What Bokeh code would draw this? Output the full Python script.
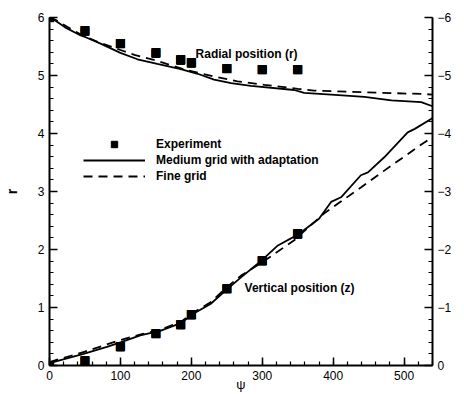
from bokeh.plotting import figure
from bokeh.models import (Range1d, LinearAxis, SingleIntervalTicker, Legend, LegendItem, Label,
                          LabelSet, ColumnDataSource)
from bokeh.core.properties import value
from bokeh.embed import file_html
from bokeh.resources import INLINE

# ---- data ----
psi_exp = [0, 50, 100, 150, 185, 200, 250, 300, 350]
r_exp = [6.0, 5.76, 5.55, 5.38, 5.26, 5.21, 5.12, 5.10, 5.10]
z_exp = [0.0, -0.07, -0.32, -0.55, -0.70, -0.87, -1.32, -1.80, -2.26]

psi_med_r = [0, 8, 22, 44, 51, 72, 100, 124, 152, 185, 209, 232, 256, 284, 345, 359, 397, 444, 482, 524, 540]
r_med = [6.0, 5.95, 5.83, 5.69, 5.66, 5.55, 5.39, 5.28, 5.20, 5.11, 5.03, 4.93, 4.87, 4.82, 4.75, 4.70, 4.67, 4.63, 4.57, 4.54, 4.47]

psi_fine_r = [0, 10, 25, 45, 70, 100, 121, 147, 170, 194, 230, 265, 303, 350, 373, 444, 529, 540]
r_fine = [6.0, 5.95, 5.84, 5.70, 5.57, 5.44, 5.35, 5.27, 5.18, 5.09, 4.99, 4.90, 4.84, 4.77, 4.74, 4.71, 4.68, 4.67]

psi_med_z = [0, 48, 81, 100, 128, 157, 185, 204, 227, 251, 270, 300, 322, 352, 380, 397, 411, 439, 449, 472, 505, 515, 538, 540]
z_med = [-0.04, -0.20, -0.32, -0.40, -0.52, -0.60, -0.73, -0.90, -1.06, -1.32, -1.52, -1.82, -2.07, -2.27, -2.53,
         -2.82, -2.90, -3.28, -3.33, -3.59, -4.02, -4.08, -4.25, -4.27]

psi_fine_z = [0, 50, 100, 130, 157, 185, 204, 227, 251, 270, 300, 345, 387, 439, 472, 529, 540]
z_fine = [-0.06, -0.24, -0.44, -0.54, -0.62, -0.75, -0.92, -1.09, -1.36, -1.55, -1.78, -2.16, -2.62, -3.07, -3.36,
          -3.85, -3.93]

legend_labels = ["Experiment", "Medium grid with adaptation", "Fine grid"]

FONT = "Liberation Sans"

p = figure(width=464, height=394, output_backend="svg", toolbar_location=None,
           x_range=Range1d(0, 540), y_range=Range1d(0, 6),
           min_border_left=49, min_border_right=32, min_border_top=17, min_border_bottom=29)
p.extra_y_ranges = {"z": Range1d(0, -6)}
p.outline_line_color = None
p.xgrid.visible = False
p.ygrid.visible = False
p.background_fill_color = "white"
p.border_fill_color = "white"

p.xaxis.ticker = SingleIntervalTicker(interval=100, num_minor_ticks=5)
p.yaxis.ticker = SingleIntervalTicker(interval=1, num_minor_ticks=5)

raxis = LinearAxis(y_range_name="z", ticker=SingleIntervalTicker(interval=1, num_minor_ticks=5))
p.add_layout(raxis, "right")

for ax in [p.xaxis[0], p.yaxis[0], raxis]:
    ax.major_tick_in = 8
    ax.major_tick_out = 0
    ax.minor_tick_in = 4
    ax.minor_tick_out = 0
    ax.axis_line_width = 2
    ax.major_tick_line_width = 1.5
    ax.minor_tick_line_width = 1.2
    ax.axis_line_color = "black"
    ax.major_tick_line_color = "black"
    ax.minor_tick_line_color = "black"
    ax.major_label_text_font = FONT
    ax.major_label_text_font_size = "12px"
    ax.major_label_text_color = "black"
    ax.major_label_standoff = 5

p.xaxis.axis_label = "ψ"
p.xaxis.axis_label_standoff = -6
p.xaxis.axis_label_text_font = FONT
p.xaxis.axis_label_text_font_size = "13px"
p.xaxis.axis_label_text_font_style = "normal"
p.xaxis.axis_label_text_color = "black"

p.yaxis[0].axis_label = "r"
p.yaxis[0].axis_label_standoff = 15
p.yaxis[0].axis_label_text_font = FONT
p.yaxis[0].axis_label_text_font_size = "14px"
p.yaxis[0].axis_label_text_font_style = "bold"
p.yaxis[0].axis_label_text_color = "black"

# curves
med_r = p.line(psi_med_r, r_med, line_color="black", line_width=1.8)
fine_r = p.line(psi_fine_r, r_fine, line_color="black", line_width=1.8, line_dash="9 6")
med_z = p.line(psi_med_z, z_med, line_color="black", line_width=1.8, y_range_name="z")
fine_z = p.line(psi_fine_z, z_fine, line_color="black", line_width=1.8, line_dash="9 6", y_range_name="z")
exp_r = p.scatter(psi_exp, r_exp, marker="square", size=8, fill_color="black", line_color="black")
exp_z = p.scatter(psi_exp, z_exp, marker="square", size=8, fill_color="black", line_color="black", y_range_name="z")

# square markers repeated as unclipped text so the ones on the axes show whole, like the original
src_r = ColumnDataSource(dict(x=psi_exp, y=r_exp, t=["■"] * len(psi_exp)))
src_z = ColumnDataSource(dict(x=psi_exp, y=z_exp, t=["■"] * len(psi_exp)))
for src, rn in [(src_r, "default"), (src_z, "z")]:
    p.add_layout(LabelSet(x="x", y="y", text="t", source=src, y_range_name=rn,
                          text_font=value("DejaVu Sans"), text_font_size="12px", y_offset=1,
                          text_align="center", text_baseline="middle", text_color="black"), "left")

legend = Legend(items=[LegendItem(label=legend_labels[0], renderers=[exp_r]),
                       LegendItem(label=legend_labels[1], renderers=[med_r]),
                       LegendItem(label=legend_labels[2], renderers=[fine_r])],
                location=(34, 181), glyph_width=62, glyph_height=16, label_height=16,
                label_standoff=11, spacing=0, padding=0, margin=0,
                border_line_color=None, background_fill_alpha=0,
                label_text_font=FONT, label_text_font_size="12px", label_text_font_style="bold",
                label_text_color="black")
p.add_layout(legend, "center")

p.add_layout(Label(x=206, y=5.37, text="Radial position (r)", text_font=FONT, text_font_size="12px",
                   text_font_style="bold", text_baseline="middle", text_align="left", text_color="black"))
p.add_layout(Label(x=275, y=1.34, text="Vertical position (z)", text_font=FONT, text_font_size="12px",
                   text_font_style="bold", text_baseline="middle", text_align="left", text_color="black"))

open("out.html", "w").write(file_html(p, INLINE))
